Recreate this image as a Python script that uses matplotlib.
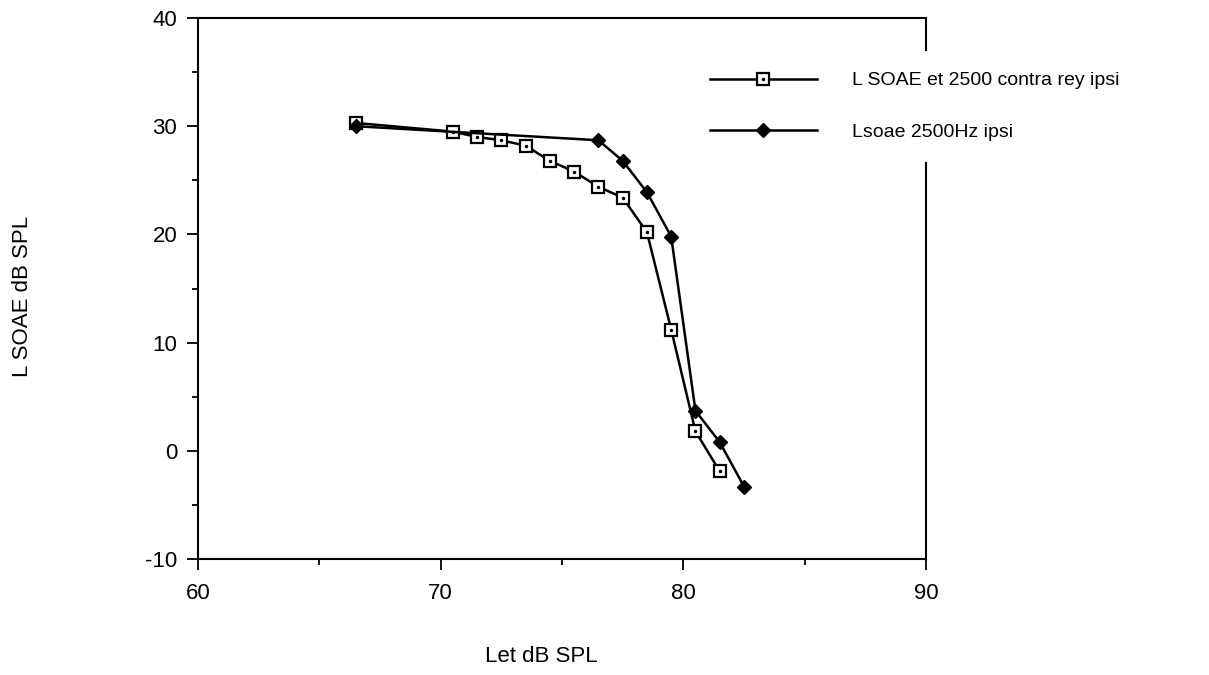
import matplotlib
matplotlib.use('Agg')
import matplotlib.pyplot as plt
from matplotlib.ticker import MultipleLocator

plt.rcParams['font.family'] = ['Liberation Sans', 'DejaVu Sans']
plt.rcParams['axes.unicode_minus'] = False

# L SOAE et 2500 contra rey ipsi (open squares)
x_contra = [66.5, 70.5, 71.5, 72.5, 73.5, 74.5, 75.5, 76.5, 77.5, 78.5, 79.5, 80.5, 81.5]
y_contra = [30.3, 29.5, 29.0, 28.7, 28.2, 26.8, 25.8, 24.4, 23.4, 20.2, 11.2, 1.8, -1.9]

# Lsoae 2500Hz ipsi (filled diamonds)
x_ipsi = [66.5, 76.5, 77.5, 78.5, 79.5, 80.5, 81.5, 82.5]
y_ipsi = [30.0, 28.7, 26.8, 23.9, 19.8, 3.7, 0.8, -3.3]

labels = ['L SOAE et 2500 contra rey ipsi', 'Lsoae 2500Hz ipsi']

fig = plt.figure(figsize=(12.09, 6.75), dpi=100)
ax = fig.add_axes([198 / 1209, 1 - 559 / 675, 728 / 1209, 541 / 675])

sq, = ax.plot(x_contra, y_contra, color='black', lw=1.8, marker='s', ms=8.5,
              mfc='white', mec='black', mew=1.6, zorder=3)
dot, = ax.plot(x_contra, y_contra, ls='none', marker='.', ms=3, color='black', zorder=4)
dm, = ax.plot(x_ipsi, y_ipsi, color='black', lw=1.8, marker='D', ms=7.5,
              mfc='black', mec='black', zorder=3)

ax.set_xlim(60, 90)
ax.set_ylim(-10, 40)
ax.xaxis.set_major_locator(MultipleLocator(10))
ax.xaxis.set_minor_locator(MultipleLocator(5))
ax.yaxis.set_major_locator(MultipleLocator(10))
ax.yaxis.set_minor_locator(MultipleLocator(5))
ax.tick_params(which='major', direction='out', length=8, width=1.3, labelsize=16, pad=9)
ax.tick_params(which='minor', direction='out', length=4, width=1.3)
ax.tick_params(axis='y', which='major', pad=7)

for s in ['left', 'bottom', 'top']:
    ax.spines[s].set_linewidth(1.5)
# right spine is broken where the legend sits
ax.spines['right'].set_visible(False)
y_cut_top = 40 - (50 - 18) / 10.82
y_cut_bot = 40 - (163 - 18) / 10.82
ax.plot([90, 90], [40, y_cut_top], color='black', lw=1.5, clip_on=False)
ax.plot([90, 90], [y_cut_bot, -10], color='black', lw=1.5, clip_on=False)

fig.legend([(sq, dot), dm], labels, loc='upper left',
           bbox_to_anchor=(700 / 1209, 1 - 62 / 675), frameon=False,
           fontsize=14, handlelength=5.5, handletextpad=1.8, labelspacing=1.75,
           borderpad=0, numpoints=1)

fig.text(22 / 1209, 1 - 296 / 675, 'L SOAE dB SPL', rotation=90, fontsize=16,
         ha='center', va='center')
fig.text(541 / 1209, 1 - 656 / 675, 'Let dB SPL', fontsize=16,
         ha='center', va='center')

fig.savefig('out.png', dpi=100)
